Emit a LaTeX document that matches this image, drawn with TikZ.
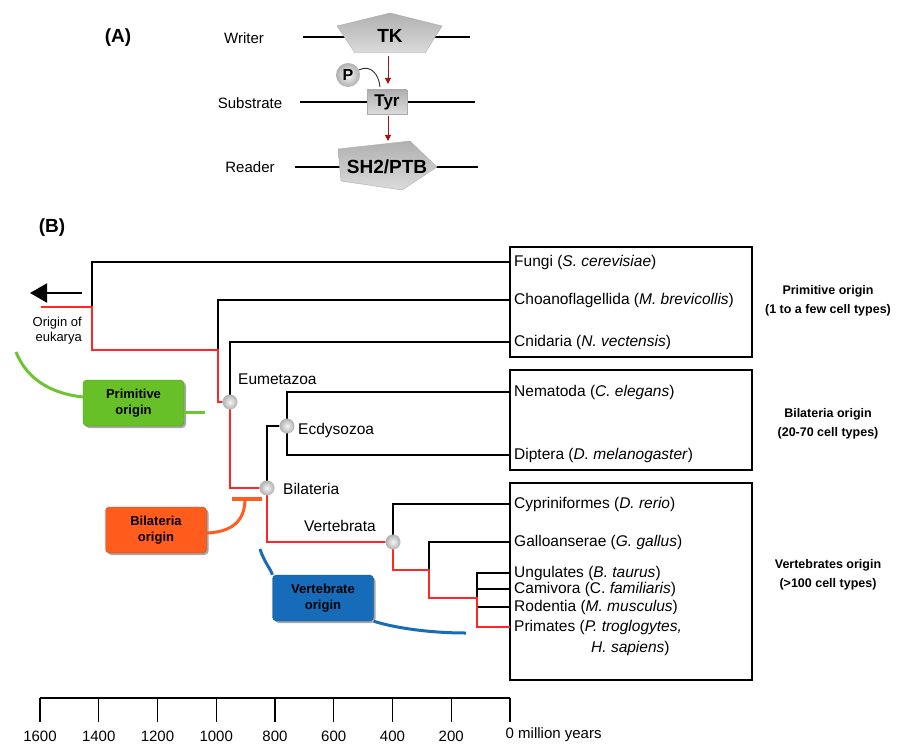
\documentclass[tikz,border=0pt]{standalone}
\usepackage{fontspec}
\setmainfont{Liberation Sans}
\usetikzlibrary{shadows,arrows.meta}
\definecolor{treered}{RGB}{255,38,38}
\definecolor{arrowred}{RGB}{165,20,20}
\definecolor{pgreen}{RGB}{104,192,40}
\definecolor{pgreenline}{RGB}{110,196,50}
\definecolor{borange}{RGB}{255,92,30}
\definecolor{vblue}{RGB}{22,108,184}
\begin{document}
\begin{tikzpicture}[x=1pt,y=-1pt,
  lbl/.style={inner sep=0pt,font=\fontsize{15.5}{18}\selectfont},
  tip/.style={lbl,anchor=west},
  alabel/.style={inner sep=0pt,font=\fontsize{15}{18}\selectfont},
  shapetext/.style={inner sep=0pt,font=\bfseries\fontsize{19}{22}\selectfont},
  panel/.style={inner sep=0pt,font=\bfseries\fontsize{19}{22}\selectfont},
  blk/.style={line width=1.3pt,black},
  rd/.style={line width=1.3pt,treered},
  greyball/.style={circle,inner sep=0pt,shade,inner color=gray!8,outer color=gray!62},
  bnode/.style={greyball,minimum size=15pt},
  obox/.style={rounded corners=4pt,minimum width=101pt,minimum height=46pt,inner sep=0pt,align=center,font=\bfseries\fontsize{13}{16}\selectfont,drop shadow={shadow xshift=2pt,shadow yshift=-2pt,opacity=0.35,fill=black}},
  cellbox/.style={draw,line width=1.3pt},
  side/.style={inner sep=0pt,align=center,font=\bfseries\fontsize{12.5}{19}\selectfont},
  redarrow/.style={line width=1pt,arrowred,-{Triangle[length=6pt,width=6pt]}},
  gshade/.style={top color=gray!62,bottom color=gray!28,draw=gray!65,line width=0.4pt},
  ticklbl/.style={inner sep=0pt,font=\fontsize{15}{18}\selectfont},
]
\useasboundingbox (0,0) rectangle (901,746);

%% ---------- Panel A ----------
\node[panel] (plA) at (118,38) {(A)};
\node[alabel] (lwriter) at (244,38) {Writer};
\node[alabel] (lsub) at (250,103) {Substrate};
\node[alabel] (lreader) at (250,167) {Reader};

\coordinate (w1) at (303,37); \coordinate (w2) at (470,37);
\coordinate (s1) at (300,102); \coordinate (s2) at (475,102);
\coordinate (r1) at (295,167); \coordinate (r2) at (478,167);
\draw[line width=1.2pt] (w1) -- (w2);
\draw[line width=1.2pt] (s1) -- (s2);
\draw[line width=1.2pt] (r1) -- (r2);

\shade[gshade] (390,13) -- (442,26) -- (425,53) -- (355,53) -- (337,26) -- cycle;
\node[shapetext] (tk) at (390,36) {TK};

\shade[gshade] (367,90) rectangle (407,114);
\node[shapetext,font=\bfseries\fontsize{17}{20}\selectfont] (tyr) at (387,102) {Tyr};

\shade[gshade] (338,149) -- (410,141) -- (437,167) -- (402,190) -- (341,181) -- cycle;
\node[shapetext] (sh2) at (387,167) {SH2/PTB};

\node[greyball,minimum size=24pt,font=\bfseries\fontsize{16}{18}\selectfont] (pcirc) at (348,75) {P};
\coordinate (pend) at (380,87);
\draw[line width=0.9pt,gray!40!black] (pcirc.25) .. controls (371,64) and (379,75) .. (pend);

\coordinate (a1s) at (388,56); \coordinate (a1e) at (388,84);
\coordinate (a2s) at (388,116); \coordinate (a2e) at (388,141);
\draw[redarrow] (a1s) -- (a1e);
\draw[redarrow] (a2s) -- (a2e);

%% ---------- Panel B ----------
\node[panel] (plB) at (52,228) {(B)};

% boxes
\draw[cellbox] (510,247) rectangle (752,357);
\draw[cellbox] (510,370) rectangle (752,470);
\draw[cellbox] (510,483) rectangle (752,680);

% tip coordinates on the box edge
\coordinate (tFungi) at (510,262);
\coordinate (tChoano) at (510,300);
\coordinate (tCnid) at (510,342);
\coordinate (tNema) at (510,392);
\coordinate (tDipt) at (510,455);
\coordinate (tCypr) at (510,504);
\coordinate (tGallo) at (510,542);
\coordinate (tUng) at (510,573);
\coordinate (tCarn) at (510,589);
\coordinate (tRod) at (510,607);
\coordinate (tPrim) at (510,627);

% tip labels
\node[tip] (lFungi) at (514,262) {Fungi (\textit{S. cerevisiae})};
\node[tip] (lChoano) at (514,300) {Choanoflagellida (\textit{M. brevicollis})};
\node[tip] (lCnid) at (514,342) {Cnidaria (\textit{N. vectensis})};
\node[tip] (lNema) at (514,392) {Nematoda (\textit{C. elegans})};
\node[tip] (lDipt) at (514,455) {Diptera (\textit{D. melanogaster})};
\node[tip] (lCypr) at (514,504) {Cypriniformes (\textit{D. rerio})};
\node[tip] (lGallo) at (514,542) {Galloanserae (\textit{G. gallus})};
\node[tip] (lUng) at (514,573) {Ungulates (\textit{B. taurus})};
\node[tip] (lCarn) at (514,589) {Camivora (C. \textit{familiaris})};
\node[tip] (lRod) at (514,607) {Rodentia (\textit{M. musculus})};
\node[tip] (lPrim) at (514,627) {Primates (\textit{P. troglogytes,}};
\node[tip] (lPrim2) at (591,648) {\textit{H. sapiens})};

% internal coordinates
\coordinate (root) at (92,307);
\coordinate (rootTop) at (92,262);
\coordinate (rootLow) at (92,350);
\coordinate (redStart) at (41,307);
\coordinate (cho) at (218,350);
\coordinate (choTop) at (218,300);
\coordinate (choLow) at (218,402);
\coordinate (eumTop) at (230,342);
\coordinate (eumLow) at (230,488);
\coordinate (bilUp) at (267,426);
\coordinate (bilLow) at (267,542);
\coordinate (ecdTop) at (287,392);
\coordinate (ecdLow) at (287,455);
\coordinate (verTop) at (393,504);
\coordinate (verLow) at (393,570);
\coordinate (galJ) at (429,570);
\coordinate (galTop) at (429,542);
\coordinate (galLow) at (429,598);
\coordinate (mamJ) at (477,598);
\coordinate (mamTop) at (477,573);
\coordinate (mamLow) at (477,627);
\coordinate (mamC) at (477,589);
\coordinate (mamR) at (477,607);

% node positions
\coordinate (pEum) at (230,402);
\coordinate (pEcd) at (287,426);
\coordinate (pBil) at (267,488);
\coordinate (pVer) at (393,542);

% black branches
\draw[blk] (root) -- (rootTop) -- (tFungi);
\draw[blk] (cho) -- (choTop) -- (tChoano);
\draw[blk] (pEum) -- (eumTop) -- (tCnid);
\draw[blk] (pBil) -- (bilUp) -- (pEcd);
\draw[blk] (tNema) -- (ecdTop) -- (ecdLow) -- (tDipt);
\draw[blk] (pVer) -- (verTop) -- (tCypr);
\draw[blk] (galJ) -- (galTop) -- (tGallo);
\draw[blk] (tUng) -- (mamTop) -- (mamR) -- (tRod);
\draw[blk] (mamC) -- (tCarn);

% red lineage
\draw[rd] (redStart) -- (root) -- (rootLow) -- (cho) -- (choLow) -- (pEum);
\draw[rd] (pEum) -- (eumLow) -- (pBil);
\draw[rd] (pBil) -- (bilLow) -- (pVer);
\draw[rd] (pVer) -- (verLow) -- (galJ) -- (galLow) -- (mamJ) -- (mamLow) -- (tPrim);

% node balls
\node[bnode] (nEum) at (pEum) {};
\node[bnode] (nEcd) at (pEcd) {};
\node[bnode] (nBil) at (pBil) {};
\node[bnode] (nVer) at (pVer) {};

% clade labels
\node[lbl,anchor=west] (lEum) at (238,379) {Eumetazoa};
\node[lbl,anchor=west] (lEcd) at (298,430) {Ecdysozoa};
\node[lbl,anchor=west] (lBil) at (283,489) {Bilateria};
\node[lbl,anchor=west] (lVer) at (304,526) {Vertebrata};

% origin of eukarya
\coordinate (arrS) at (82,293);
\coordinate (arrE) at (30,293);
\draw[line width=2pt,-{Triangle[length=17pt,width=19pt]}] (arrS) -- (arrE);
\node[inner sep=0pt,align=right,font=\fontsize{13}{15}\selectfont,anchor=north east] (lOrig) at (82,317) {Origin of\\eukarya};

% origin boxes
\node[obox,fill=pgreen,draw=pgreen!75!black] (bPrim) at (133.5,403) {Primitive\\origin};
\node[obox,fill=borange,draw=borange!80!black] (bBil) at (156,530) {Bilateria\\origin};
\node[obox,fill=vblue,draw=vblue!75!black] (bVer) at (323,598) {Vertebrate\\origin};

% callout curves
\coordinate (gS) at (16,352);
\coordinate (gE) at (205,412);
\draw[pgreenline,line width=3pt] (gS) .. controls (28,382) and (55,394) .. (bPrim.west|-0,397);
\draw[pgreenline,line width=3pt] (bPrim.east|-gE) -- (gE);

\coordinate (oL) at (232,499);
\coordinate (oR) at (262,499);
\coordinate (oM) at (245,499);
\draw[borange,line width=3.5pt] (oL) -- (oR);
\draw[borange,line width=3pt] (oM) .. controls (245,521) and (232,532) .. (bBil.east|-0,533);

\coordinate (vS) at (260,549);
\coordinate (vE) at (466,633);
\draw[vblue,line width=3pt] (vS) .. controls (264,562) and (272,571) .. (bVer.north west);
\draw[vblue,line width=3pt] (bVer.south east) .. controls (395,628) and (430,633) .. (vE);

% right-side descriptions
\node[side] (sPrim) at (828,301) {Primitive origin\\(1 to a few cell types)};
\node[side] (sBil) at (828,424) {Bilateria origin\\(20-70 cell types)};
\node[side] (sVer) at (828,575) {Vertebrates origin\\(>100 cell types)};

% time axis
\coordinate (axL) at (40,698);
\coordinate (axR) at (510,698);
\draw[line width=1.3pt] (axL) -- (axR);
\foreach \i/\lab in {0/1600,1/1400,2/1200,3/1000,4/800,5/600,6/400,7/200} {
  \coordinate (tick\i) at ({40+\i*58.75},698);
  \coordinate (tickb\i) at ({40+\i*58.75},722);
  \draw[line width=1.3pt] (tick\i) -- (tickb\i);
  \node[ticklbl] (tl\i) at ({40+\i*58.75},736) {\lab};
}
\coordinate (tick8) at (510,698);
\coordinate (tickb8) at (510,722);
\draw[line width=1.3pt] (tick8) -- (tickb8);
\node[ticklbl,anchor=west] (tl8) at (505.5,735) {0 million years};

\end{tikzpicture}
\end{document}
